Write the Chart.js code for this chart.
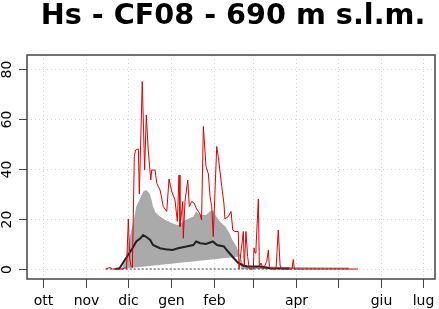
<!DOCTYPE html>
<html>
<head>
<meta charset="utf-8">
<script src="https://cdn.jsdelivr.net/npm/chart.js@4"></script>
<style>
  body { margin: 0; background: #fff; }
</style>
</head>
<body>
<canvas id="myChart" width="439" height="309"></canvas>
<script>
// days are counted from 1 October
const monthDays = [0, 31, 61, 92, 123, 151, 182, 212, 243, 273];
const monthLabels = ['ott', 'nov', 'dic', 'gen', 'feb', '', 'apr', '', 'giu', 'lug'];
const yTicks = [0, 20, 40, 60, 80];

// grey band (spread of past seasons)
const bandDays = [53, 57, 60, 62, 65, 67, 70, 72, 74, 76, 77, 78, 79, 81, 84, 88, 92, 97, 102, 106, 108, 110, 113, 117, 120, 122, 124, 127, 131, 134, 136, 139, 141, 143, 144, 147, 163, 178, 220];
const bandHigh = [0, 0.5, 5.6, 12, 19, 25, 28.5, 31, 31.6, 30.5, 29.5, 27.6, 25, 22.5, 21, 19.6, 18.5, 17.5, 19.5, 20.5, 21, 23, 21.6, 21.6, 23, 23.6, 21.5, 19, 17, 14.3, 11.6, 9, 6, 3, 1.6, 1.2, 1, 0.8, 0.6];
const lowDays = [53, 61, 141.5, 142.5, 220];
const bandLow = [0, 0.3, 5, 0, 0];

// median of past seasons
const medianDays = [52, 55, 58, 62, 65, 67, 70, 72, 75, 77, 79, 84, 88, 93, 97, 103, 108, 110, 113, 117, 122, 125, 130, 132, 136, 140, 144, 147, 156, 163, 177];
const medianHs = [0, 0.3, 3, 6.3, 9, 11, 12.3, 13.6, 12.5, 11.6, 9.6, 8.3, 7.9, 7.6, 8.3, 9, 9.6, 11, 10.3, 10, 11, 9.6, 9, 7.6, 5, 2.5, 1.3, 1, 1, 0.3, 0.2];

// current season
const seasonDays = [45, 48, 50, 57, 59, 60, 61.3, 62.3, 63.3, 64.2, 65.6, 66.5, 68.5, 69.2, 71.3, 73, 74.2, 75.6, 77.4, 78.1, 80.5, 81.7, 84.1, 86.4, 88.9, 90.5, 92.5, 94.8, 96.5, 97.7, 98.4, 100.4, 100.8, 102, 104, 105.1, 106.8, 108.5, 110.4, 112.8, 113.9, 115.2, 117.1, 118.8, 120, 121.2, 122.3, 124.8, 125.9, 128.4, 130, 130.7, 133.1, 135.1, 136.3, 137.9, 140.3, 140.8, 143.9, 144.6, 145.8, 147, 148.2, 151.1, 151.6, 152.3, 153, 154.7, 155.4, 156.6, 158.3, 160.7, 161.9, 162.6, 163.8, 167.4, 169, 170.3, 171, 178.9, 179.8, 180.5, 226.3];
const seasonHs = [0, 0.6, 0, 0, 0.5, 0, 20, 4, 1, 0.5, 45, 47.6, 48, 30, 75, 39.6, 61.6, 47.6, 35.6, 39.6, 39.6, 34.3, 31.6, 25, 23, 36, 31, 27.6, 19, 37.6, 17, 27, 12.3, 27, 35.6, 25, 27, 26.4, 24, 22, 19.6, 57, 41, 38, 29, 25, 13, 49, 45, 33, 26, 20, 21, 23, 15.6, 15, 15, 0, 15, 1, 15, 5, 0, 0, 8.4, 6.4, 8.4, 28, 1, 2.4, 0, 3, 7.6, 1, 0, 0, 15.6, 1.6, 0, 0, 3.8, 0, 0];

const zeroDays = [45, 220];
const zeroHs = [0, 0];

const pts = (xs, ys) => xs.map((d, i) => ({ x: d, y: ys[i] }));

const rPlot = {
    id: 'rPlot',
    beforeDatasetsDraw(chart) {
        const { ctx, chartArea: a, scales: { x, y } } = chart;
        ctx.save();
        ctx.strokeStyle = '#d3d3d3';
        ctx.lineWidth = 1;
        ctx.setLineDash([1, 3]);
        monthDays.forEach(d => {
            const px = Math.round(x.getPixelForValue(d)) + 0.5;
            ctx.beginPath(); ctx.moveTo(px, a.top); ctx.lineTo(px, a.bottom); ctx.stroke();
        });
        yTicks.forEach(v => {
            const py = Math.round(y.getPixelForValue(v)) + 0.5;
            ctx.beginPath(); ctx.moveTo(a.left, py); ctx.lineTo(a.right, py); ctx.stroke();
        });
        ctx.restore();
    },
    afterDatasetsDraw(chart) {
        const { ctx, chartArea: a, scales: { x, y } } = chart;
        ctx.save();
        ctx.strokeStyle = '#444';
        ctx.lineWidth = 1.5;
        ctx.strokeRect(a.left, a.top, a.right - a.left, a.bottom - a.top);

        ctx.lineWidth = 1;
        ctx.fillStyle = '#000';
        ctx.font = '14px "DejaVu Sans"';
        ctx.textAlign = 'center';
        ctx.textBaseline = 'alphabetic';
        monthDays.forEach((d, i) => {
            const px = Math.round(x.getPixelForValue(d)) + 0.5;
            ctx.beginPath(); ctx.moveTo(px, a.bottom); ctx.lineTo(px, a.bottom + 9); ctx.stroke();
            if (monthLabels[i]) ctx.fillText(monthLabels[i], px, 305);
        });
        yTicks.forEach(v => {
            const py = Math.round(y.getPixelForValue(v)) + 0.5;
            ctx.beginPath(); ctx.moveTo(a.left - 8, py); ctx.lineTo(a.left, py); ctx.stroke();
            ctx.save();
            ctx.translate(11, py);
            ctx.rotate(-Math.PI / 2);
            ctx.fillText(String(v), 0, 0);
            ctx.restore();
        });

        ctx.font = 'bold 28.7px "DejaVu Sans"';
        ctx.fillText('Hs - CF08 - 690 m s.l.m.', 233, 24);
        ctx.restore();
    }
};

const ctx = document.getElementById('myChart');
new Chart(ctx, {
    type: 'line',
    data: {
        datasets: [
            { data: pts(seasonDays, seasonHs), borderColor: 'rgb(225,0,0)', borderWidth: 1, order: 1 },
            { data: pts(medianDays, medianHs), borderColor: '#222', borderWidth: 2, order: 2 },
            { data: pts(zeroDays, zeroHs), borderColor: '#445', borderWidth: 1, borderDash: [2, 2], order: 3 },
            { data: pts(lowDays, bandLow), borderWidth: 0, borderColor: 'rgba(0,0,0,0)', order: 5 },
            { data: pts(bandDays, bandHigh), borderWidth: 0, borderColor: 'rgba(0,0,0,0)', backgroundColor: '#aaaaaa', fill: '-1', order: 4 }
        ]
    },
    options: {
        responsive: false,
        animation: false,
        events: [],
        layout: { padding: { top: 55, right: 4, left: 0, bottom: 0 } },
        elements: { point: { radius: 0 }, line: { tension: 0 } },
        plugins: { legend: { display: false }, tooltip: { enabled: false } },
        scales: {
            x: {
                type: 'linear', min: -11.5, max: 281.6,
                grid: { display: false }, border: { display: false },
                ticks: { display: false },
                afterFit: s => { s.height = 30; }
            },
            y: {
                min: -4, max: 85.6,
                grid: { display: false }, border: { display: false },
                ticks: { display: false },
                afterFit: s => { s.width = 27; }
            }
        }
    },
    plugins: [rPlot]
});
</script>
</body>
</html>
